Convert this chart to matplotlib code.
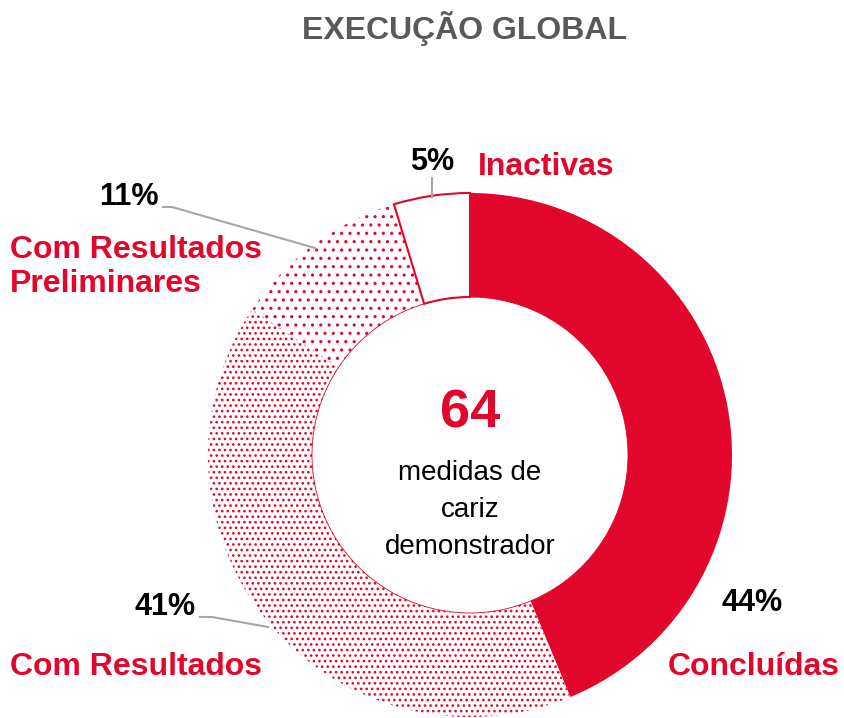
import matplotlib.pyplot as plt
from matplotlib.patches import Circle

# data: counts out of 64 measures
labels = ['Concluídas', 'Com Resultados', 'Com Resultados\nPreliminares', 'Inactivas']
counts = [28, 26, 7, 3]
pct_labels = ['44%', '41%', '11%', '5%']
total = 64
center_lines = ['medidas de', 'cariz', 'demonstrador']

RED = '#E2062C'
H = 718

plt.rcParams['font.family'] = ['Liberation Sans', 'DejaVu Sans']
plt.rcParams['hatch.linewidth'] = 1.1

fig = plt.figure(figsize=(8.44, 7.18), dpi=100)
ax = fig.add_axes([0, 0, 1, 1])

cx, cy, r_out, r_in = 470, H - 455, 262, 158
wedges, _ = ax.pie(counts, startangle=90, counterclock=False,
                   center=(cx, cy), radius=r_out, frame=True,
                   wedgeprops=dict(width=r_out - r_in, linewidth=0))
ax.set_xlim(0, 844)
ax.set_ylim(0, H)
ax.set_aspect('auto')
ax.axis('off')

wedges[0].set_facecolor(RED)
wedges[1].set_facecolor('white')
wedges[1].set_edgecolor(RED)
wedges[1].set_hatch('...')
wedges[2].set_facecolor('white')
wedges[2].set_edgecolor(RED)
wedges[2].set_hatch('..')
wedges[3].set_facecolor('white')
wedges[3].set_edgecolor(RED)
wedges[3].set_linewidth(1.5)
ax.add_patch(Circle((cx, cy), r_in, facecolor='none', edgecolor=RED, lw=0.6))

ax.text(465, H - 28, 'EXECUÇÃO GLOBAL', ha='center', va='center',
        fontsize=23, fontweight='bold', color='#595959')
ax.text(cx, H - 413, str(total), ha='center', va='center',
        fontsize=39, fontweight='bold', color=RED)
for i, t in enumerate(center_lines):
    ax.text(cx, H - 473 - 37 * i, t, ha='center', va='center', fontsize=20)

# labels
lab_kw = dict(fontsize=23, fontweight='bold', color=RED)
pct_kw = dict(fontsize=22, fontweight='bold', color='black')
ax.text(478, H - 167, labels[3], ha='left', va='center', **lab_kw)
ax.text(432, H - 162, pct_labels[3], ha='center', va='center', **pct_kw)
ax.text(159, H - 197, pct_labels[2], ha='right', va='center', **pct_kw)
ax.text(10, H - 267, labels[2], ha='left', va='center', linespacing=1.2, **lab_kw)
ax.text(196, H - 607, pct_labels[1], ha='right', va='center', **pct_kw)
ax.text(10, H - 667, labels[1], ha='left', va='center', **lab_kw)
ax.text(752, H - 603, pct_labels[0], ha='center', va='center', **pct_kw)
ax.text(840, H - 667, labels[0], ha='right', va='center', **lab_kw)

# leader lines
gray = '#A6A6A6'
ax.plot([432, 432], [H - 178, H - 197], color=gray, lw=1.5)
ax.plot([163, 172, 315], [H - 207, H - 207, H - 248], color=gray, lw=1.5)
ax.plot([200, 212, 268], [H - 617, H - 617, H - 627], color=gray, lw=1.5)

fig.savefig('out.png', dpi=100, facecolor='white')
